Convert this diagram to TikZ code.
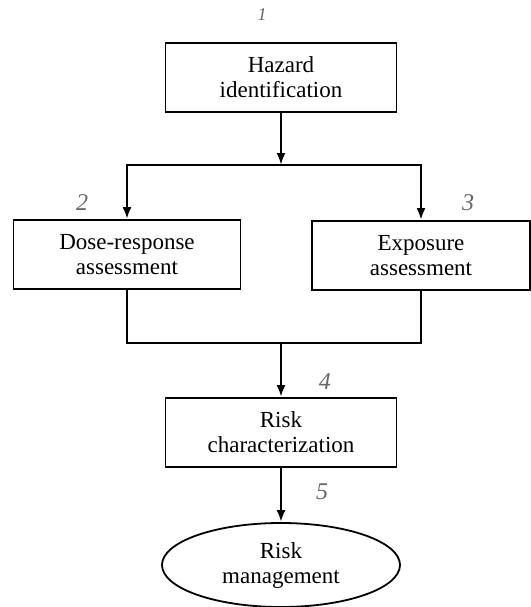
\documentclass[tikz,border=0pt]{standalone}
\usepackage{fontspec}
\setmainfont{Liberation Serif}
\usetikzlibrary{arrows.meta,shapes.geometric}

\begin{document}
\begin{tikzpicture}[x=0.5pt,y=-0.5pt,>={Latex[length=6pt,width=4.5pt]},line width=1.2pt,
    stage/.style={draw,rectangle,line width=0.9pt,align=center,
      minimum height=34.5pt,font=\fontsize{11.5}{12.5}\selectfont},
    goal/.style={draw,ellipse,line width=0.9pt,align=center,inner sep=0pt,
      minimum width=119pt,minimum height=42pt,font=\fontsize{11.5}{12.5}\selectfont},
    stepnum/.style={font=\large\itshape,text=black!60}]
    \useasboundingbox (0,0) rectangle (531,607);

    \node[stage,minimum width=115.5pt] (haz)  at (281,77.5)  {Hazard\\identification};
    \node[stage,minimum width=113.5pt] (dose) at (127,254.5) {Dose-response\\assessment};
    \node[stage,minimum width=109pt]   (expo) at (421,255.5) {Exposure\\assessment};
    \node[stage,minimum width=115.5pt] (char) at (281,432.5) {Risk\\characterization};
    \node[goal]                        (mgmt) at (281,565)   {Risk\\management};

    \coordinate (split) at (281,165);
    \coordinate (merge) at (281,343);

    % handwritten step numbers
    \node[stepnum,font=\small\itshape] (n1) at (262,15)  {1};
    \node[stepnum] (n2) at (82,203)  {2};
    \node[stepnum] (n3) at (468,203) {3};
    \node[stepnum] (n4) at (325,382) {4};
    \node[stepnum] (n5) at (322,492) {5};

    \draw[->] (haz) -- (split);
    \draw[->] (split) -| (dose.north);
    \draw[->] (split) -| (expo.north);
    \draw (dose.south) |- (merge) -| (expo.south);
    \draw[->] (merge) -- (char);
    \draw[->] (char) -- (mgmt);
\end{tikzpicture}
\end{document}
